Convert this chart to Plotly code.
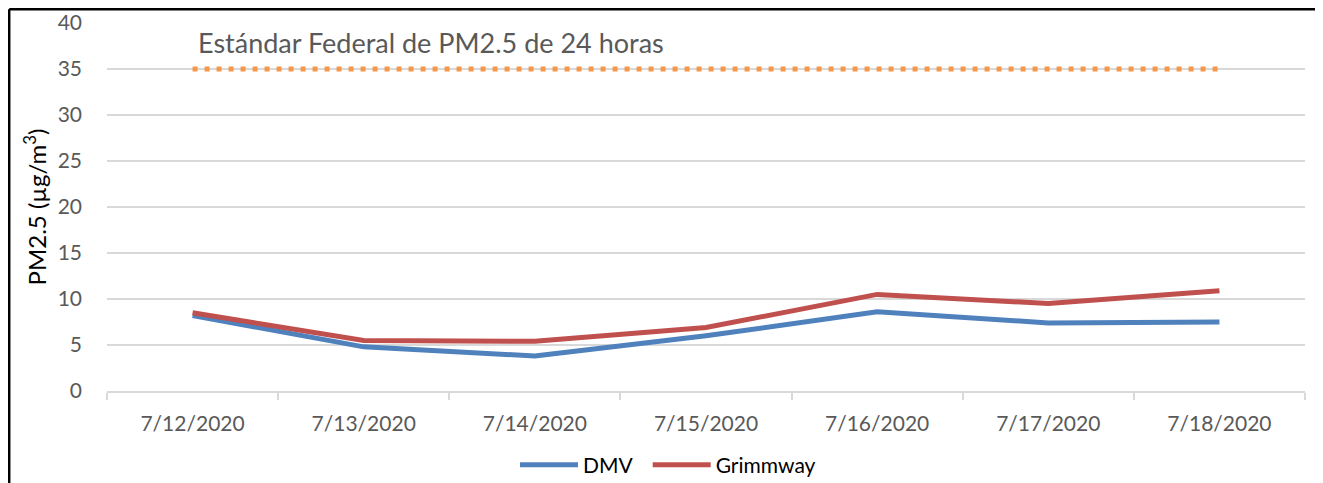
import plotly.graph_objects as go

dates = ["7/12/2020", "7/13/2020", "7/14/2020", "7/15/2020", "7/16/2020", "7/17/2020", "7/18/2020"]
dmv = [8.2, 4.8, 3.8, 6.0, 8.6, 7.4, 7.5]
grimmway = [8.5, 5.5, 5.4, 6.9, 10.5, 9.5, 10.9]
standard = [35, 35, 35, 35, 35, 35, 35]
standard_label = "Estándar Federal de PM2.5 de 24 horas"
series_names = ["DMV", "Grimmway"]

# page body has an 8px default margin; figure starts at (8, 8) in the window
OFF = 8
W, H = 1323 - OFF, 483 - OFF
ml, mt = 107 - OFF, 23 - OFF
mr = (W + OFF) - 1305
mb = (H + OFF) - 391
pw, ph = W - ml - mr, H - mt - mb

FONT = "Lato, 'Open Sans', sans-serif"

fig = go.Figure()
fig.add_trace(go.Scatter(x=dates, y=standard, mode="lines", showlegend=False,
                         line=dict(color="#F79646", width=5, dash="5px,7px"),
                         hoverinfo="skip"))
fig.add_trace(go.Scatter(x=dates, y=dmv, mode="lines", name=series_names[0] + "\u00a0\u00a0",
                         line=dict(color="#4F81BD", width=5)))
fig.add_trace(go.Scatter(x=dates, y=grimmway, mode="lines", name=series_names[1],
                         line=dict(color="#C0504D", width=5)))

fig.add_annotation(x=dates[0], y=standard[0], xref="x", yref="y",
                   text=standard_label, showarrow=False,
                   xanchor="left", yanchor="bottom", xshift=3, yshift=8,
                   font=dict(family=FONT, size=27, color="#595959"))

# outer frame: left and top edges, kept inside the figure
fx0 = (1.2 - ml) / pw
fy1 = 1 + (mt - 1.2) / ph
fx1 = 1 + mr / pw
fy0 = -mb / ph
fig.add_shape(type="line", xref="paper", yref="paper", x0=fx0, x1=fx0, y0=fy0, y1=fy1,
              line=dict(color="black", width=2.5), layer="above")
fig.add_shape(type="line", xref="paper", yref="paper", x0=fx0, x1=fx1, y0=fy1, y1=fy1,
              line=dict(color="black", width=2.5), layer="above")

fig.update_layout(
    width=W, height=H,
    margin=dict(l=ml, r=mr, t=mt, b=mb, autoexpand=False),
    paper_bgcolor="white", plot_bgcolor="white",
    font=dict(family=FONT, size=21, color="#595959"),
    legend=dict(orientation="h", x=(515 - 107) / pw, xanchor="left",
                y=-(465 - 391) / ph, yanchor="middle",
                font=dict(family=FONT, size=21, color="black"),
                itemwidth=58, traceorder="normal"),
    xaxis=dict(type="category", tickson="boundaries", ticks="outside", ticklen=7,
               tickcolor="#D9D9D9", tickwidth=1.5, showline=True, linecolor="#D9D9D9",
               linewidth=1.5, showgrid=False, tickfont=dict(size=21, color="#595959"),
               range=[-0.5, 6.5], automargin=False, ticklabelstandoff=13),
    yaxis=dict(range=[0, 40], dtick=5, showgrid=True, gridcolor="#D9D9D9", gridwidth=1.5,
               zeroline=False, showline=False, ticks="", ticklabelstandoff=24,
               automargin=False,
               tickfont=dict(size=21, color="#595959"),
               title=dict(text="PM2.5 (µg/m<sup>3</sup>)", standoff=4,
                          font=dict(family=FONT, size=24, color="black"))),
)

fig.write_html("out.html",
               post_script="document.documentElement.style.overflow='hidden';"
                           "document.body.style.overflow='hidden';")
